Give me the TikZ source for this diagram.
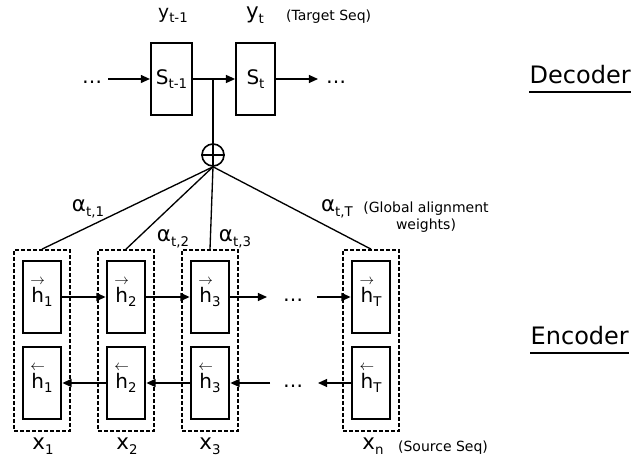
\documentclass[tikz,border=0pt]{standalone}
\usepackage{fontspec}
\setmainfont{DejaVu Sans}
\usetikzlibrary{arrows.meta}
\newcommand{\lo}[1]{\raisebox{-0.4ex}{\fontsize{10}{10}\selectfont #1}}
\newcommand{\fwh}{\ooalign{h\cr\hidewidth\raisebox{0.9em}{\fontsize{11}{11}\selectfont$\rightarrow$}\hidewidth\cr}}
\newcommand{\bwh}{\ooalign{h\cr\hidewidth\raisebox{0.9em}{\fontsize{11}{11}\selectfont$\leftarrow$}\hidewidth\cr}}

\begin{document}
\begin{tikzpicture}[x=0.75pt, y=-0.75pt, >={Triangle[length=2.4mm, width=2.1mm]}, line width=1pt,
  font=\fontsize{15}{18}\selectfont,
  cell/.style={draw, line width=1.6pt, minimum width=29pt, minimum height=54pt, inner sep=0pt},
  group/.style={draw, dash pattern=on 3pt off 1.5pt, line width=1.3pt, minimum width=42pt, minimum height=135.75pt},
  mid/.style={font=\fontsize{14}{16}\selectfont},
  lab/.style={font=\fontsize{16}{18}\selectfont},
  small/.style={font=\fontsize{10.5}{13}\selectfont},
  big/.style={font=\fontsize{18}{20}\selectfont, inner xsep=0pt}]
  \useasboundingbox (0,0) rectangle (632,459);
  % decoder
  \node[cell, minimum width=30.75pt] (s1) at (171.5,79) {S\lo{t-1}};
  \node[cell] (s2) at (255.5,79) {S\lo{t}};
  \node[mid] (y1) at (173,15) {y\lo{t-1}};
  \node[lab] (y2) at (255,15) {y\lo{t}};
  \node[small, anchor=west] (tgt) at (281,17) {(Target Seq)};
  \node[anchor=base] (dl) at (92,84) {\dots};
  \node[anchor=base] (dr) at (336,84) {\dots};
  \coordinate (din) at (108,79);
  \coordinate (dout) at (318,79);
  \draw[->] (din) -- (s1);
  \draw[->] (s1) -- (s2);
  \draw[->] (s2) -- (dout);
  % sum of the weighted states
  \node[draw, circle, minimum size=16.5pt, inner sep=0pt, line width=1.2pt] (op) at (213,155) {};
  \draw[line width=1.2pt] (op.north) -- (op.south) (op.west) -- (op.east);
  \draw (op.north) -- (op |- s1);
  % encoder
  \foreach \i/\x/\t in {1/42/1, 2/126/2, 3/210/3, 4/371/T} {
    \node[cell] (f\i) at (\x,297) {\fwh\lo{\t}};
    \node[cell] (b\i) at (\x,383) {\bwh\lo{\t}};
    \node[group] (g\i) at (\x,340.5) {};
    \draw (op.south) -- (g\i.north);
  }
  \foreach \i/\x/\t in {1/43/1, 2/127/2, 3/210/3, 4/373/n}
    \node[lab] (x\i) at (\x,446) {x\lo{\t}};
  \node[small, anchor=west] (src) at (393,448) {(Source Seq)};
  % weights
  \node[lab] (a1) at (88,209) {α\lo{t,1}};
  \node[lab] (a2) at (173,239) {α\lo{t,2}};
  \node[lab] (a3) at (235,239) {α\lo{t,3}};
  \node[lab] (a4) at (337,209) {α\lo{t,T}};
  \node[small, align=center] (gaw) at (426,217) {(Global alignment\\weights)};
  % forward chain
  \coordinate (fa) at (267,297);
  \coordinate (fb) at (317,297);
  \draw[->] (f1) -- (f2);
  \draw[->] (f2) -- (f3);
  \draw[->] (f3) -- (fa);
  \node[anchor=base] (fd) at (293,302) {\dots};
  \draw[->] (fb) -- (f4);
  % backward chain
  \coordinate (ba) at (270,383);
  \coordinate (bb) at (318,383);
  \draw[->] (b2) -- (b1);
  \draw[->] (b3) -- (b2);
  \draw[->] (ba) -- (b3);
  \node[anchor=base] (bd) at (293,388) {\dots};
  \draw[->] (b4) -- (bb);
  % side labels
  \node[big, anchor=west] (dec) at (529,75) {Decoder};
  \draw[line width=1.4pt] ([yshift=-6pt]dec.base west) -- ([yshift=-6pt]dec.base east);
  \node[big, anchor=west] (enc) at (530,336) {Encoder};
  \draw[line width=1.4pt] ([yshift=-6pt]enc.base west) -- ([yshift=-6pt]enc.base east);
\end{tikzpicture}
\end{document}
